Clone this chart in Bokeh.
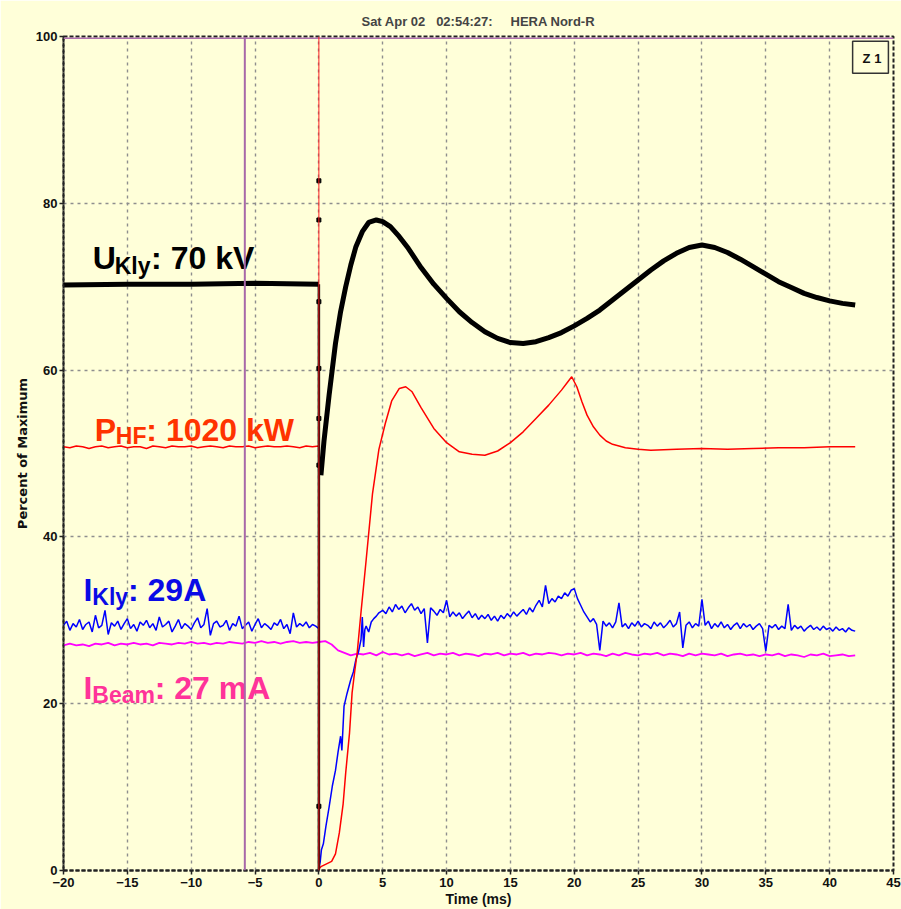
import numpy as np
from bokeh.plotting import figure
from bokeh.models import Range1d, Label, Span, FixedTicker
from bokeh.embed import file_html
from bokeh.resources import INLINE

# ---------------- data ----------------
title_text = "Sat Apr 02\u00a0\u00a0\u00a002:54:27:\u00a0\u00a0\u00a0\u00a0\u00a0HERA Nord-R"
x_title = "Time (ms)"
y_title = "Percent of Maximum"
x_ticks = [-20, -15, -10, -5, 0, 5, 10, 15, 20, 25, 30, 35, 40, 45]
y_ticks = [0, 20, 40, 60, 80, 100]

cursor_a = -5.8
cursor_b = 0.0
cursor_top = 99.8

# U_Kly (klystron voltage)
u_pre_t = [-20.0, -15.0, -10.0, -5.0, 0.0]
u_pre_v = [70.2, 70.3, 70.3, 70.4, 70.3]
u_step_t = [0.0, 0.0]
u_step_v = [70.3, 0.0]
u_mark_v = [82.7, 78.0, 68.2, 60.2, 54.2, 48.6, 7.7]
u_post_t = [0.16, 0.4, 0.8, 1.3, 1.7, 2.1, 2.5, 2.9, 3.4, 3.9, 4.5, 5.0, 5.6, 6.3, 7.0,
            8.0, 9.0, 10.0, 11.0, 12.0, 13.0, 14.0, 15.0, 16.0, 17.0, 18.0, 19.0, 20.0,
            21.0, 22.0, 23.0, 24.0, 25.0, 26.0, 27.0, 28.0, 29.0, 30.0, 31.0, 32.0, 33.0,
            34.0, 35.0, 36.0, 37.0, 38.0, 39.0, 40.0, 41.0, 42.0]
u_post_v = [47.4, 51.5, 57.0, 63.2, 67.0, 70.0, 72.6, 74.8, 76.6, 77.7, 78.0, 77.8, 77.2,
            76.0, 74.6, 72.3, 70.3, 68.6, 67.0, 65.7, 64.6, 63.8, 63.3, 63.2, 63.4, 63.9,
            64.5, 65.3, 66.2, 67.2, 68.4, 69.6, 70.8, 72.0, 73.1, 74.0, 74.7, 75.0, 74.7,
            74.1, 73.3, 72.4, 71.5, 70.6, 69.9, 69.2, 68.7, 68.3, 68.0, 67.8]

# P_HF (RF power)
p_pre_v = [50.8, 50.7, 50.9, 50.8, 50.6, 50.8, 50.9, 50.7, 50.8, 50.9, 50.7, 50.8, 50.8, 50.6,
           50.9, 50.8, 50.7, 50.9, 50.8, 50.8, 50.9, 50.7, 50.8, 50.9, 50.8, 50.7, 50.9, 50.8,
           50.8, 50.9, 50.7, 50.8, 50.9, 50.8, 50.8, 50.9, 50.8, 50.7, 50.9, 50.8, 50.9]
p_post_t = [0.0, 0.0, 0.2, 0.6, 1.0, 1.3, 1.6, 1.9, 2.1, 2.4, 2.6, 2.8, 3.0, 3.3, 3.7, 4.2,
            4.7, 5.2, 5.7, 6.3, 6.8, 7.3, 8.0, 9.0, 10.0, 11.0, 12.0, 13.0, 14.0, 15.0, 16.0,
            17.0, 18.0, 19.0, 19.5, 19.8, 20.2, 20.6, 21.0, 21.5, 22.0, 22.5, 23.0, 24.0,
            25.0, 26.0, 28.0, 30.0, 32.0, 34.0, 36.0, 38.0, 40.0, 42.0]
p_post_v = [50.9, 0.2, 0.5, 0.8, 1.1, 2.0, 4.5, 8.0, 11.7, 16.5, 21.3, 23.8, 26.1, 31.0, 37.2,
            45.2, 50.5, 53.6, 56.3, 57.8, 58.0, 57.4, 55.5, 53.0, 51.3, 50.2, 49.9, 49.8,
            50.3, 51.3, 52.6, 54.2, 55.8, 57.6, 58.6, 59.2, 58.0, 56.2, 54.6, 53.2, 52.2,
            51.5, 51.1, 50.7, 50.5, 50.4, 50.5, 50.6, 50.5, 50.6, 50.7, 50.7, 50.8, 50.8]

# I_Kly (klystron current)
i_pre_v = [29.4, 29.9, 28.8, 29.6, 29.2, 30.1, 28.9, 29.5, 29.8, 28.6, 30.6, 29.1, 29.4, 31.2,
           28.3, 29.7, 29.3, 29.9, 28.9, 29.6, 30.2, 29.0, 29.5, 28.7, 29.8, 29.4, 30.0, 29.1,
           29.6, 28.8, 30.4, 29.2, 29.5, 29.9, 28.6, 29.3, 30.1, 29.0, 29.6, 29.3, 28.9, 29.7,
           30.3, 29.1, 29.5, 31.4, 28.2, 29.6, 29.9, 29.2, 29.4, 30.0, 28.8, 29.6, 29.3, 30.5,
           29.0, 29.4, 29.8, 28.7, 29.5, 30.2, 29.1, 29.6, 29.3, 28.9, 29.7, 29.4, 30.1, 29.0,
           29.5, 28.4, 30.9, 29.2, 29.6, 29.3, 29.8, 29.1, 29.5, 29.3, 29.0]
i_rise_t = [0.0, 0.1, 0.2, 0.35, 0.55, 0.8, 1.05, 1.3, 1.5, 1.7, 1.8, 1.97, 2.2, 2.5, 2.7,
            2.9, 3.1, 3.3, 3.4, 3.5, 3.6, 3.7, 3.9, 4.1, 4.3, 4.5, 4.7]
i_rise_v = [0.3, 1.0, 2.5, 3.2, 5.3, 7.6, 10.1, 12.0, 14.2, 16.1, 14.4, 19.7, 21.2, 22.9,
            23.8, 25.3, 26.2, 27.7, 30.4, 26.8, 28.9, 29.3, 28.6, 29.8, 30.2, 30.5, 30.9]
i_post_v = [31.2, 30.8, 31.6, 31.0, 31.9, 31.3, 31.7, 30.9, 31.5, 32.0, 31.2, 31.6,
            30.8, 31.4, 27.3, 31.5, 31.1, 30.6, 31.3, 30.9, 32.4, 30.4, 31.0, 30.5,
            30.9, 30.2, 30.7, 31.1, 30.3, 30.8, 30.1, 30.6, 30.2, 30.7, 30.0, 30.5,
            29.9, 30.6, 30.2, 30.8, 30.4, 31.0, 30.5, 30.9, 31.3, 30.7, 31.5, 31.0,
            31.8, 32.4, 31.6, 34.2, 32.0, 32.6, 32.2, 32.9, 32.6, 33.3, 32.9, 33.6,
            33.8, 32.6, 31.8, 31.0, 30.4, 29.8, 30.2, 29.5, 26.4, 29.9, 29.3, 29.7,
            29.1, 29.8, 32.1, 29.2, 29.6, 29.0, 29.7, 29.3, 29.9, 29.2, 29.6, 29.4,
            29.0, 29.8, 29.3, 29.7, 29.1, 29.5, 30.0, 29.2, 29.6, 31.0, 26.7, 29.4,
            29.8, 29.1, 29.6, 29.3, 32.5, 29.4, 29.9, 29.0, 29.6, 29.2, 29.8, 29.1,
            29.5, 28.9, 29.4, 29.7, 29.0, 29.6, 29.2, 29.5, 28.9, 29.3, 29.6, 29.0,
            26.3, 29.4, 29.1, 29.5, 28.9, 29.3, 29.0, 31.9, 28.8, 29.4, 29.0, 29.3,
            28.7, 29.1, 29.4, 28.9, 29.2, 28.8, 29.3, 28.9, 29.1, 28.7, 29.2, 28.8,
            29.0, 28.6, 29.1, 28.8, 28.7]

# I_Beam (beam current)
b_pre_v = [27.0, 27.2, 27.0, 27.1, 26.9, 27.2, 27.1, 27.3, 27.0, 27.2, 27.1, 27.3, 27.1,
           27.2, 27.0, 27.3, 27.2, 27.1, 27.3, 27.2, 27.4, 27.2, 27.3, 27.1, 27.3, 27.2,
           27.4, 27.3, 27.2, 27.4, 27.3, 27.5, 27.3, 27.4, 27.2, 27.4, 27.5, 27.3, 27.4,
           27.3, 27.4]
b_post_v = [27.4, 27.5, 27.1, 26.4, 26.1, 25.8, 26.0, 25.9, 26.1, 25.8,
            26.2, 25.9, 26.0, 25.8, 26.0, 25.7, 25.9, 26.1, 25.8, 26.0,
            25.9, 26.1, 25.8, 26.0, 25.9, 25.7, 26.0, 25.9, 26.1, 25.8,
            26.0, 25.9, 26.1, 25.8, 26.0, 25.9, 26.1, 26.0, 25.8, 26.0,
            25.9, 26.1, 25.8, 26.0, 25.9, 25.7, 26.0, 25.8, 26.1, 25.9,
            25.8, 26.0, 25.9, 26.1, 25.8, 26.0, 25.9, 25.7, 26.0, 25.8,
            26.0, 25.9, 25.8, 26.0, 25.7, 25.9, 26.0, 25.8, 25.9, 25.7,
            25.9, 25.8, 26.0, 25.7, 25.9, 25.8, 25.6, 25.9, 25.8, 26.0,
            25.7, 25.8, 25.9, 25.7, 25.8]

# ---------------- styling ----------------
BG = "#FFFFD9"
FONT = "Liberation Sans"
X0, X1, Y0, Y1 = -20, 45, 0, 100

p = figure(width=901, height=909, x_range=Range1d(X0, X1), y_range=Range1d(Y0, Y1),
           output_backend="svg", toolbar_location=None, title=title_text,
           x_axis_label=x_title, y_axis_label=y_title,
           min_border_left=63, min_border_right=8, min_border_top=36, min_border_bottom=38)
p.background_fill_color = BG
p.border_fill_color = BG
p.outline_line_color = "#222222"
p.outline_line_width = 2
p.outline_line_dash = "4 2"

p.title.align = "center"
p.title.text_font = FONT
p.title.text_font_size = "13px"
p.title.text_font_style = "bold"
p.title.standoff = 16

p.xaxis.ticker = FixedTicker(ticks=x_ticks)
p.yaxis.ticker = FixedTicker(ticks=y_ticks)
for ax in (p.xaxis, p.yaxis):
    ax.axis_line_color = "#222222"
    ax.axis_line_width = 2
    ax.axis_line_dash = "4 2"
    ax.major_tick_out = 4
    ax.major_tick_in = 0
    ax.minor_tick_out = 0
    ax.minor_tick_in = 0
    ax.major_tick_line_color = "#222222"
    ax.major_tick_line_width = 1.5
    ax.major_label_text_font = FONT
    ax.major_label_text_font_size = "13px"
    ax.major_label_text_font_style = "bold"
    ax.major_label_text_color = "#111111"
    ax.axis_label_text_font_style = "bold"
    ax.axis_label_text_color = "#111111"
p.xaxis.axis_label_text_font = FONT
p.xaxis.axis_label_text_font_size = "14px"
p.yaxis.axis_label_text_font = "DejaVu Sans"
p.yaxis.axis_label_text_font_size = "13px"
p.xaxis.major_label_standoff = 3
p.xaxis.axis_label_standoff = 1
p.yaxis.major_label_standoff = 2
p.yaxis.axis_label_standoff = 3

for g in (p.xgrid, p.ygrid):
    g.grid_line_color = "#8E8E8E"
    g.grid_line_dash = "3 4"
    g.grid_line_width = 1.4

# ---------------- traces ----------------
b_pre_t = np.linspace(-20, 0, len(b_pre_v))
b_post_t = np.linspace(0, 42, len(b_post_v))
p.line(list(b_pre_t) + list(b_post_t), b_pre_v + b_post_v, color="#FF00FF", line_width=1.8)

i_pre_t = np.linspace(-20, 0, len(i_pre_v))
i_post_t = np.linspace(5.0, 42.0, len(i_post_v))
p.line(list(i_pre_t) + i_rise_t + list(i_post_t), i_pre_v + i_rise_v + i_post_v,
       color="#0000FF", line_width=1.5)

p_pre_t = np.linspace(-20, 0, len(p_pre_v))
p.line(list(p_pre_t) + p_post_t, p_pre_v + p_post_v, color="#FF0000", line_width=1.5)

p.line(u_step_t, u_step_v, color="#000000", line_width=2.5)
p.line(u_pre_t, u_pre_v, color="#000000", line_width=5)
p.line(u_post_t, u_post_v, color="#000000", line_width=5)
p.scatter([cursor_b] * len(u_mark_v), u_mark_v, marker="square", size=4,
          color="#000000")

# ---------------- labels ----------------
def lab(x, y, text, color, size):
    p.add_layout(Label(x=x, y=y, text=text, text_color=color, text_font=FONT,
                       text_font_size=size, text_font_style="bold",
                       text_align="left", text_baseline="alphabetic"))

BIG = "32px"
SUB = "23px"
lab(-17.70, 73.41, "U", "#000000", BIG)
lab(-15.99, 72.46, "Kly", "#000000", SUB)
lab(-13.14, 73.41, ": 70 kV", "#000000", BIG)

lab(-17.56, 52.81, "P", "#FF3300", BIG)
lab(-15.90, 52.10, "HF", "#FF3300", SUB)
lab(-13.51, 52.81, ": 1020 kW", "#FF3300", BIG)

lab(-18.44, 33.65, "I", "#0A0AE6", BIG)
lab(-17.74, 32.81, "Kly", "#0A0AE6", SUB)
lab(-14.95, 33.65, ": 29A", "#0A0AE6", BIG)

lab(-18.44, 21.92, "I", "#FF3399", BIG)
lab(-17.74, 21.08, "Beam", "#FF3399", SUB)
lab(-12.86, 21.92, ": 27 mA", "#FF3399", BIG)

p.add_layout(Label(x=43.2, y=97.5, text="Z 1", text_font=FONT, text_font_size="13px",
                   text_font_style="bold", text_align="center", text_baseline="middle",
                   text_color="#111111", border_line_color="#333333",
                   border_line_width=1.5, background_fill_color=BG,
                   padding=(10, 7, 10, 7)))

# ---------------- cursors ----------------
p.add_layout(Span(location=cursor_top, dimension="width", line_color="#B070B0", line_width=1.5))
p.add_layout(Span(location=cursor_a, dimension="height", line_color="#A868A8", line_width=2))
p.add_layout(Span(location=cursor_b, dimension="height", line_color="#FF2020", line_width=1))

open("out.html", "w").write(file_html(p, INLINE))
